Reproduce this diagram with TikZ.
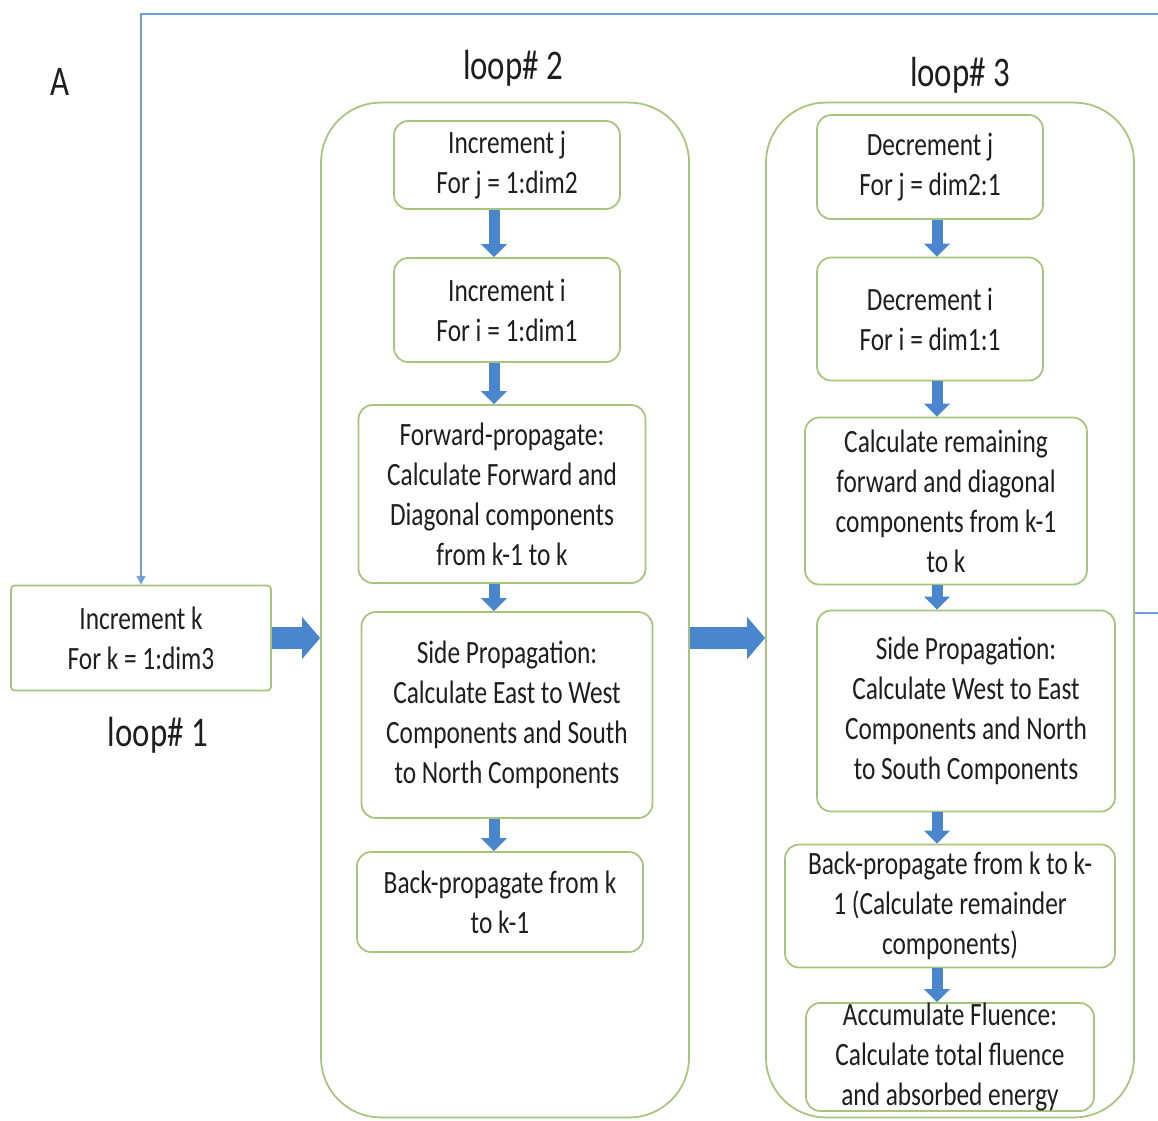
\documentclass[tikz,border=0pt]{standalone}
\usepackage{fontspec}
\setmainfont{Carlito}[FakeStretch=0.78]
\usetikzlibrary{arrows.meta}
\definecolor{bordo}{RGB}{168,196,124}
\definecolor{freccia}{RGB}{74,134,205}
\definecolor{filo}{RGB}{112,160,219}
\definecolor{testo}{RGB}{30,30,30}
\tikzset{
  blk/.style     = {rectangle, draw=bordo, line width=1pt, rounded corners=8pt, align=center, inner sep=1pt, text=testo, font=\fontsize{18.5}{22.7}\selectfont},
  loopbox/.style = {rectangle, draw=bordo, line width=1pt, rounded corners=34pt, minimum width=7.36cm, minimum height=20.3cm},
  lab/.style     = {text=testo, font=\fontsize{24}{28}\selectfont},
  fat/.style     = {draw=freccia, line width=0.44cm, -{Triangle[length=0.36cm, width=0.82cm]}},
  dn/.style      = {draw=freccia, line width=0.22cm, -{Triangle[length=0.26cm, width=0.5cm]}},
  feed/.style    = {draw=filo, line width=1.1pt}
}
\begin{document}
\begin{tikzpicture}[x=0.02cm, y=-0.02cm]
  \useasboundingbox (0,0) rectangle (1158,1120);
  % loop 1
  \node[lab] (A) at (60,82) {A};
  \node[blk, rounded corners=2pt, minimum width=5.2cm, minimum height=2.1cm] (inck) at (141,638) {Increment k\\For k = 1:dim3};
  \node[lab] (l1) at (158,735) {loop\# 1};
  % loop 2
  \node[loopbox] (loop2) at (505,610) {}; \node[lab] (l2) at (513,68) {loop\# 2};
  \node[blk, minimum width=4.52cm, minimum height=1.76cm] (incj)  at (507,165) {Increment j\\For j = 1:dim2};
  \node[blk, minimum width=4.52cm, minimum height=2.08cm] (inci)  at (507,310) {Increment i\\For i = 1:dim1};
  \node[blk, minimum width=5.74cm, minimum height=3.56cm] (fwd)   at (502,494) {Forward-propagate:\\Calculate Forward and\\Diagonal components\\from k-1 to k};
  \node[blk, minimum width=5.82cm, minimum height=4.12cm] (side2) at (507,715) {Side Propagation:\\Calculate East to West\\Components and South\\to North Components};
  \node[blk, minimum width=5.72cm, minimum height=2.0cm]  (back2) at (500,902) {Back-propagate from k\\to k-1};
  % loop 3
  \node[loopbox] (loop3) at (950,610) {}; \node[lab] (l3) at (960,75) {loop\# 3};
  \node[blk, minimum width=4.52cm, minimum height=2.08cm] (decj)  at (930,167) {Decrement j\\For j = dim2:1};
  \node[blk, minimum width=4.52cm, minimum height=2.46cm] (deci)  at (930,319) {Decrement i\\For i = dim1:1};
  \node[blk, minimum width=5.64cm, minimum height=3.34cm] (calc)  at (946,501) {Calculate remaining\\forward and diagonal\\components from k-1\\to k};
  \node[blk, minimum width=5.96cm, minimum height=4.02cm] (side3) at (966,711) {Side Propagation:\\Calculate West to East\\Components and North\\to South Components};
  \node[blk, minimum width=6.6cm, minimum height=2.46cm]  (back3) at (950,906) {Back-propagate from k to k-\\1 (Calculate remainder\\components)};
  \node[blk, inner sep=0pt, minimum width=5.76cm, minimum height=2.1cm] (accum) at (950,1057) {Accumulate Fluence:\\Calculate total fluence\\and absorbed energy};
  % arrows
  \coordinate (c2) at (494,0); \coordinate (c3) at (937,0);
  \coordinate (tr) at (1158,14); \coordinate (er) at (1158,613);
  \draw[feed, -{Triangle[length=5pt, width=5pt]}] (tr) -| (inck.north);
  \draw[feed] (loop3.east |- er) -- (er);
  \draw[fat] (inck.east) -- (inck.east -| loop2.west);
  \draw[fat] (inck.east -| loop2.east) -- (inck.east -| loop3.west);
  \draw[dn] (incj.south -| c2) -- (inci.north -| c2);  \draw[dn] (inci.south -| c2) -- (fwd.north -| c2);
  \draw[dn] (fwd.south -| c2) -- (side2.north -| c2);  \draw[dn] (side2.south -| c2) -- (back2.north -| c2);
  \draw[dn] (decj.south -| c3) -- (deci.north -| c3);  \draw[dn] (deci.south -| c3) -- (calc.north -| c3);
  \draw[dn] (calc.south -| c3) -- (side3.north -| c3); \draw[dn] (side3.south -| c3) -- (back3.north -| c3);
  \draw[dn] (back3.south -| c3) -- (accum.north -| c3);
\end{tikzpicture}
\end{document}
